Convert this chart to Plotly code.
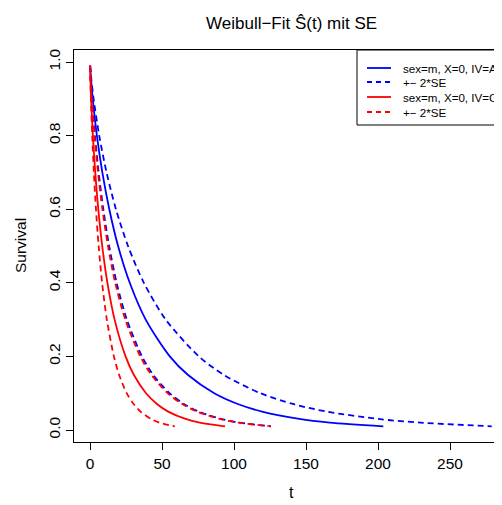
import plotly.graph_objects as go

surv = [0.99, 0.95, 0.9, 0.8, 0.7, 0.6, 0.5, 0.4, 0.3, 0.2, 0.15, 0.1, 0.07, 0.05, 0.03, 0.02, 0.01]

t_A = [0.10, 0.77, 1.89, 4.79, 8.56, 13.4, 19.5, 27.6, 38.7, 55.4, 67.9, 86.3, 103.1, 119.5, 145.3, 166.4, 203.7]
t_A_hi = [0.13, 1.02, 2.50, 6.40, 11.5, 18.0, 26.4, 37.4, 52.6, 75.6, 92.8, 118.3, 141.6, 164.4, 200.1, 229.4, 279.0]
t_A_lo = [0.09, 0.60, 1.42, 3.45, 6.03, 9.23, 13.3, 18.5, 25.6, 36.1, 43.8, 55.2, 65.5, 75.5, 91.0, 103.6, 125.7]

t_C = [0.04, 0.31, 0.78, 2.01, 3.65, 5.76, 8.48, 12.1, 17.1, 24.7, 30.4, 38.9, 46.7, 54.3, 66.4, 76.2, 93.8]
t_C_hi = [0.07, 0.52, 1.25, 3.13, 5.55, 8.60, 12.5, 17.5, 24.5, 34.9, 42.6, 53.9, 64.3, 74.3, 90.1, 102.9, 125.6]
t_C_lo = [0.04, 0.26, 0.62, 1.53, 2.69, 4.15, 6.00, 8.40, 11.7, 16.6, 20.2, 25.5, 30.4, 35.1, 42.4, 48.3, 58.9]

legend_labels = ["sex=m, X=0, IV=A", "+\u2212 2*SE", "sex=m, X=0, IV=C", "+\u2212 2*SE"]

# die Seite hat 8px Rand -> Figur um 8px kleiner und alles verschoben
OFF = 8
W, H = 502 - OFF, 505 - OFF
L, T, B = 74, 50, 442          # Plotfläche in Pixeln des Fensters (rechts abgeschnitten)
R = 502


def px_x(p):
    return (p - L) / (R - L)


def px_y(p):
    return (B - p) / (B - T)


FONT = "Liberation Sans, Arial, sans-serif"
DASH = "6px,4px"

fig = go.Figure()
kurven = [
    (t_A, "blue", "solid"), (t_A_hi, "blue", DASH), (t_A_lo, "blue", DASH),
    (t_C, "red", "solid"), (t_C_hi, "red", DASH), (t_C_lo, "red", DASH),
]
for tt, farbe, stil in kurven:
    fig.add_trace(go.Scatter(x=tt, y=surv, mode="lines",
                             line=dict(color=farbe, width=1.8, dash=stil, shape="spline", smoothing=0.8),
                             showlegend=False, hoverinfo="skip"))

# Legende von Hand (wie in R)
fig.add_shape(type="rect", xref="paper", yref="paper",
              x0=px_x(357), x1=px_x(530), y0=px_y(125), y1=px_y(50),
              line=dict(color="black", width=1), fillcolor="white", layer="above")
zeilen_y = [68, 82, 97, 112]
stile = [("blue", "solid"), ("blue", DASH), ("red", "solid"), ("red", DASH)]
for yy, (farbe, stil), txt in zip(zeilen_y, stile, legend_labels):
    fig.add_shape(type="line", xref="paper", yref="paper",
                  x0=px_x(367), x1=px_x(391), y0=px_y(yy), y1=px_y(yy),
                  line=dict(color=farbe, width=1.8, dash="5px,4px" if stil != "solid" else "solid"),
                  layer="above")
    fig.add_annotation(x=px_x(401), y=px_y(yy), xref="paper", yref="paper",
                       text=txt, showarrow=False, xanchor="left", yanchor="middle",
                       font=dict(size=11.6, color="black", family=FONT))

# Titel und Achsentitel
fig.add_annotation(x=px_x(291.5), y=px_y(24), xref="paper", yref="paper",
                   text="Weibull\u2212Fit \u015C(t) mit SE", showarrow=False,
                   xanchor="center", yanchor="middle", font=dict(size=17, color="black", family=FONT))
fig.add_annotation(x=px_x(291.5), y=px_y(492), xref="paper", yref="paper",
                   text="t", showarrow=False, xanchor="center", yanchor="middle",
                   font=dict(size=16, color="black", family=FONT))
fig.add_annotation(x=px_x(20), y=px_y(246), xref="paper", yref="paper",
                   text="Survival", showarrow=False, textangle=-90, xanchor="center", yanchor="middle",
                   font=dict(size=15.5, color="black", family=FONT))

fig.update_layout(
    width=W, height=H,
    margin=dict(l=L - OFF, r=0, t=T - OFF, b=505 - B, autoexpand=False),
    plot_bgcolor="white", paper_bgcolor="white",
    font=dict(family=FONT, size=15, color="black"),
    xaxis=dict(range=[(L - 90) / 1.44, (R - 90) / 1.44], tickvals=[0, 50, 100, 150, 200, 250],
               showgrid=False, zeroline=False, showline=True, mirror=True, linecolor="black", linewidth=1,
               ticks="outside", ticklen=7, tickcolor="black", tickfont=dict(size=15.5), automargin=False),
    yaxis=dict(range=[-0.0326, 1.0326], tickvals=[0, 0.2, 0.4, 0.6, 0.8, 1.0], tickformat=".1f",
               tickangle=-90, showgrid=False, zeroline=False, showline=True, linecolor="black", linewidth=1,
               ticks="outside", ticklen=7, tickcolor="black", tickfont=dict(size=15.5), automargin=False),
)

fig.write_html("out.html")
